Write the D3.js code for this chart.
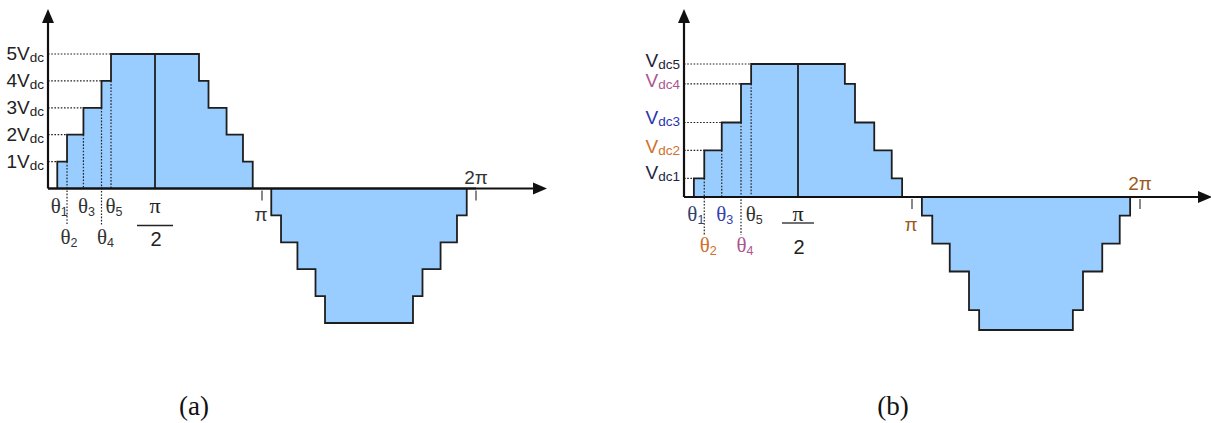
<!DOCTYPE html>
<html>
<head>
<meta charset="utf-8">
<script src="https://cdn.jsdelivr.net/npm/d3@7/dist/d3.min.js"></script>
<style>
  html, body { margin: 0; padding: 0; background: #fff; }
  svg { display: block; }
</style>
</head>
<body>
<svg id="chart" width="1211" height="423"></svg>
<script>
// Quarter-wave switching angles (degrees), shared by both waveforms
const thetaDeg = [7.8, 16, 29.8, 45, 53];
// Step levels: (a) equal dc sources, (b) unequal dc sources (in Vdc units)
const levelsA = [1, 2, 3, 4, 5];
const levelsB = [0.7, 1.75, 2.8, 4.25, 5];
// Level labels
const levelMainA = ["1V", "2V", "3V", "4V", "5V"];
const levelSubA = ["dc", "dc", "dc", "dc", "dc"];
const levelMainB = ["V", "V", "V", "V", "V"];
const levelSubB = ["dc1", "dc2", "dc3", "dc4", "dc5"];
const levelColorsA = ["#222", "#222", "#222", "#222", "#222"];
const levelColorsB = ["#1c2448", "#d0702c", "#2a34b0", "#ad5590", "#1c1c38"];
const thetaSubs = ["1", "2", "3", "4", "5"];
const thetaColorsA = ["#333", "#333", "#333", "#333", "#333"];
const thetaColorsB = ["#34406a", "#d0702c", "#3840b0", "#ad5590", "#333"];
// Angle ticks on the horizontal axis
const tickDeg = [180, 360];
const tickLabels = ["π", "2π"];
const captions = ["(a)", "(b)"];

const svg = d3.select("#chart");

const fillColor = "#99ccff";
const edgeColor = "#1e1e1e";

function drawPanel(cfg) {
  const g = svg.append("g");
  const x = d3.scaleLinear().domain([0, 180]).range([cfg.x0, cfg.xPi]);
  const y = d3.scaleLinear().domain([0, 5]).range([cfg.yBase, cfg.yTop]);
  const L = cfg.levels;

  // Build the stepped waveform from the switching angles (quarter-wave symmetry)
  const pts = [[0, 0]];
  thetaDeg.forEach((t, i) => { pts.push([t, i === 0 ? 0 : L[i - 1]]); pts.push([t, L[i]]); });
  for (let i = thetaDeg.length - 1; i >= 0; i--) {
    pts.push([180 - thetaDeg[i], L[i]]);
    pts.push([180 - thetaDeg[i], i === 0 ? 0 : L[i - 1]]);
  }
  pts.push([180, 0]);
  thetaDeg.forEach((t, i) => { pts.push([180 + t, i === 0 ? 0 : -L[i - 1]]); pts.push([180 + t, -L[i]]); });
  for (let i = thetaDeg.length - 1; i >= 0; i--) {
    pts.push([360 - thetaDeg[i], -L[i]]);
    pts.push([360 - thetaDeg[i], i === 0 ? 0 : -L[i - 1]]);
  }
  pts.push([360, 0]);

  const line = d3.line().x(d => x(d[0])).y(d => y(d[1]));
  g.append("path").attr("d", line(pts) + "Z")
    .attr("fill", fillColor).attr("stroke", edgeColor)
    .attr("stroke-width", 1.8).attr("stroke-linejoin", "miter");

  // Quarter-period marker at pi/2
  g.append("line")
    .attr("x1", x(90)).attr("x2", x(90))
    .attr("y1", y(0)).attr("y2", y(L[L.length - 1]))
    .attr("stroke", edgeColor).attr("stroke-width", 1.8);

  // Dotted guides: level lines to the y axis and angle lines down to the labels
  const dot = { stroke: "#222", "stroke-width": 1.2, "stroke-dasharray": "1.6,1.6" };
  L.forEach((lv, i) => {
    const h = g.append("line")
      .attr("x1", x(0)).attr("x2", x(thetaDeg[i]))
      .attr("y1", y(lv)).attr("y2", y(lv));
    Object.entries(dot).forEach(([k, v]) => h.attr(k, v));
    if (i > 0) {
      const v = g.append("line")
        .attr("x1", x(thetaDeg[i])).attr("x2", x(thetaDeg[i]))
        .attr("y1", y(L[i - 1]))
        .attr("y2", i % 2 === 1 ? cfg.yBase + cfg.dropLow : y(0));
      Object.entries(dot).forEach(([k, vv]) => v.attr(k, vv));
    }
  });

  // Axes with arrowheads
  g.append("line").attr("x1", x(0)).attr("x2", x(0))
    .attr("y1", cfg.yBase).attr("y2", cfg.yAxisTop + 10)
    .attr("stroke", "#111").attr("stroke-width", 2.2);
  g.append("path")
    .attr("d", `M${x(0)},${cfg.yAxisTop} l-6,14 l12,0 Z`)
    .attr("fill", "#111");
  g.append("line").attr("x1", x(0)).attr("x2", cfg.xAxisEnd - 10)
    .attr("y1", cfg.yBase).attr("y2", cfg.yBase)
    .attr("stroke", "#111").attr("stroke-width", 2.2);
  g.append("path")
    .attr("d", `M${cfg.xAxisEnd},${cfg.yBase} l-14,-6 l0,12 Z`)
    .attr("fill", "#111");

  // Ticks at pi and 2pi
  const xFull = d3.scaleLinear().domain([0, 360]).range([cfg.x0, cfg.x0 + 2 * (cfg.xPi - cfg.x0)]);
  tickDeg.forEach((d, i) => {
    g.append("line").attr("x1", xFull(d)).attr("x2", xFull(d))
      .attr("y1", cfg.yBase + 2).attr("y2", cfg.yBase + 12)
      .attr("stroke", "#888").attr("stroke-width", 2);
    g.append("text")
      .attr("x", xFull(d) + (i === 0 ? -1 : 0))
      .attr("y", i === 0 ? cfg.yBase + cfg.piDy : cfg.yBase + cfg.twoPiDy)
      .attr("text-anchor", "middle")
      .attr("font-family", "Liberation Sans, Arial, sans-serif")
      .attr("font-size", 19).attr("fill", cfg.piColor)
      .text(tickLabels[i]);
  });

  // Level labels on the y axis
  L.forEach((lv, i) => {
    const t = g.append("text")
      .attr("x", x(0) - 4).attr("y", y(lv) + cfg.labelDy[i])
      .attr("text-anchor", "end")
      .attr("font-family", "Liberation Sans, Arial, sans-serif")
      .attr("font-size", 19).attr("fill", cfg.levelColors[i]);
    t.append("tspan").text(cfg.levelMain[i]);
    t.append("tspan").attr("font-size", 13.5).attr("dy", 2).text(cfg.levelSub[i]);
  });

  // Switching-angle labels, alternating between two rows
  thetaDeg.forEach((th, i) => {
    const t = g.append("text")
      .attr("x", x(th) + cfg.thetaDx[i])
      .attr("y", cfg.yBase + (i % 2 === 0 ? cfg.row1 : cfg.row2))
      .attr("text-anchor", "middle")
      .attr("fill", cfg.thetaColors[i]);
    t.append("tspan").attr("font-family", "Liberation Serif, Times New Roman, serif")
      .attr("font-size", 21).text("θ");
    t.append("tspan").attr("font-family", "Liberation Sans, Arial, sans-serif")
      .attr("font-size", 12.5).attr("dy", 3).text(thetaSubs[i]);
  });

  // pi / 2 label
  g.append("text").attr("x", x(90)).attr("y", cfg.yBase + cfg.row1)
    .attr("text-anchor", "middle")
    .attr("font-family", "Liberation Serif, Times New Roman, serif")
    .attr("font-size", 22).attr("fill", "#222").text("π");
  g.append("line").attr("x1", x(90) - cfg.fracHalf).attr("x2", x(90) + cfg.fracHalf)
    .attr("y1", cfg.yBase + cfg.fracDy).attr("y2", cfg.yBase + cfg.fracDy)
    .attr("stroke", "#222").attr("stroke-width", 1.3);
  g.append("text").attr("x", x(90) + 1).attr("y", cfg.yBase + cfg.row2 + 2)
    .attr("text-anchor", "middle")
    .attr("font-family", "Liberation Sans, Arial, sans-serif")
    .attr("font-size", 20).attr("fill", "#222").text("2");

  // Caption
  svg.append("text").attr("x", cfg.capX).attr("y", 415)
    .attr("text-anchor", "middle")
    .attr("font-family", "Liberation Serif, Times New Roman, serif")
    .attr("font-size", 27).attr("fill", "#111").text(cfg.caption);
}

drawPanel({
  x0: 48, xPi: 262, yBase: 188.5, yTop: 54, yAxisTop: 9, xAxisEnd: 547,
  levels: levelsA, levelMain: levelMainA, levelSub: levelSubA,
  levelColors: levelColorsA, thetaColors: thetaColorsA,
  labelDy: [6, 6, 6, 6, 6],
  thetaDx: [2, 2, 3, 4, 3],
  row1: 24, row2: 55, dropLow: 36,
  fracHalf: 18, fracDy: 37,
  piDy: 32, twoPiDy: -5, piColor: "#333",
  capX: 194, caption: captions[0]
});

drawPanel({
  x0: 684, xPi: 912, yBase: 197, yTop: 64, yAxisTop: 9, xAxisEnd: 1212,
  levels: levelsB, levelMain: levelMainB, levelSub: levelSubB,
  levelColors: levelColorsB, thetaColors: thetaColorsB,
  labelDy: [1, 3, 1, 3, 3],
  thetaDx: [2, 4, 3, 4, 3],
  row1: 24, row2: 55, dropLow: 38,
  fracHalf: 16, fracDy: 26,
  piDy: 34, twoPiDy: -7, piColor: "#9a5a20",
  capX: 893, caption: captions[1]
});
</script>
</body>
</html>
